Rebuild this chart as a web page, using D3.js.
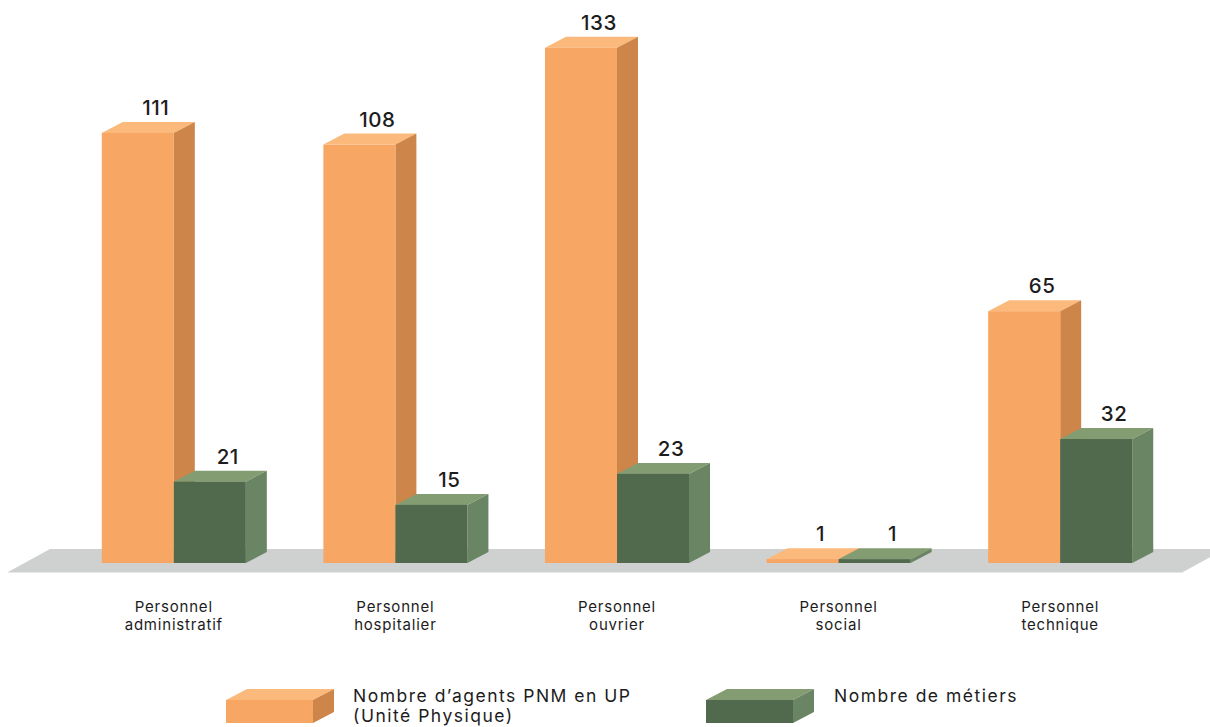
<!DOCTYPE html>
<html><head><meta charset="utf-8">
<script src="https://cdn.jsdelivr.net/npm/d3@7/dist/d3.min.js"></script>
<style>body{margin:0;background:#fff}svg{display:block}text{font-family:Inter,"Open Sans",sans-serif;fill:#1c1c1c}</style>
</head><body><svg id="c" width="1210" height="727"></svg>
<script>
const categories = [["Personnel","administratif"],["Personnel","hospitalier"],["Personnel","ouvrier"],["Personnel","social"],["Personnel","technique"]];
const seriesNames = [["Nombre d\u2019agents PNM en UP","(Unit\u00e9 Physique)"],["Nombre de m\u00e9tiers"]];
const agents = [111,108,133,1,65];
const metiers = [21,15,23,1,32];
const colors = [
  {front:"#F8A663", side:"#CD8549", top:"#FBB97B"},
  {front:"#51694D", side:"#6A8563", top:"#849C72"}
];
const W=1210,H=727, DX=21, DY=11;
const svg=d3.select("#c");
const keys = categories.map(c=>c.join(" "));
const x=d3.scaleBand().domain(keys).range([63,1171]).paddingInner(0.35).paddingOuter(0.175);
const xs=d3.scaleBand().domain([0,1]).range([0,x.bandwidth()]);
const y=d3.scaleLinear().domain([0,140]).range([563,20.6]);
const base=y(0);
// floor
svg.append("polygon").attr("points",[[50,base-14],[1225,base-14],[1183,base+9],[8,base+9]].map(p=>p.join(",")).join(" ")).attr("fill","#CFD1D0");
svg.append("line").attr("x1",8).attr("x2",1183).attr("y1",base+9.5).attr("y2",base+9.5).attr("stroke","#E6E7E6").attr("stroke-width",1);
function box(g,x0,w,yTop,yBot,col){
  g.append("polygon").attr("points",`${x0},${yTop} ${x0+DX},${yTop-DY} ${x0+w+DX},${yTop-DY} ${x0+w},${yTop}`).attr("fill",col.top);
  g.append("polygon").attr("points",`${x0+w},${yTop} ${x0+w+DX},${yTop-DY} ${x0+w+DX},${yBot-DY} ${x0+w},${yBot}`).attr("fill",col.side);
  g.append("rect").attr("x",x0).attr("y",yTop).attr("width",w).attr("height",yBot-yTop).attr("fill",col.front);
}
const data=[agents,metiers];
keys.forEach((k,i)=>{
  const g=svg.append("g");
  data.forEach((arr,s)=>{
    const x0=x(k)+xs(s), v=arr[i];
    box(g,x0,xs.bandwidth(),y(v),base,colors[s]);
    g.append("text").attr("x",x0+xs.bandwidth()/2+18).attr("y",y(v)-DY-7)
      .attr("text-anchor","middle").attr("font-size",20.5).attr("font-weight",500).attr("letter-spacing",0.6).text(v);
  });
  const t=svg.append("text").attr("text-anchor","middle").attr("font-size",15).attr("letter-spacing",0.8);
  categories[i].forEach((l,j)=>t.append("tspan").attr("x",x(k)+x.bandwidth()/2).attr("y",612+j*18).text(l));
});
// legend
const leg=[{x:226,tx:353},{x:706,tx:834}];
leg.forEach((L,s)=>{
  const g=svg.append("g");
  box(g,L.x,87,700,723,colors[s]);
  const t=svg.append("text").attr("font-size",17.5).attr("letter-spacing",1.5);
  seriesNames[s].forEach((l,j)=>t.append("tspan").attr("x",L.tx).attr("y",702+j*20).text(l));
});
</script></body></html>
